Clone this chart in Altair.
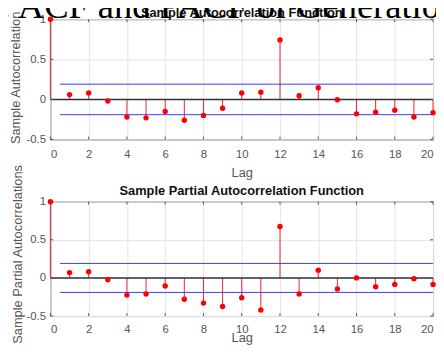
import altair as alt
import pandas as pd

# ---- data ----
lags = list(range(21))
acf_values = [1.0, 0.06, 0.08, -0.02, -0.22, -0.23, -0.15, -0.26, -0.20, -0.11,
              0.08, 0.09, 0.74, 0.045, 0.145, -0.005, -0.18, -0.16, -0.135, -0.22, -0.165]
pacf_values = [1.0, 0.07, 0.08, -0.025, -0.225, -0.21, -0.105, -0.28, -0.33, -0.375,
               -0.26, -0.42, 0.675, -0.21, 0.10, -0.145, 0.0, -0.115, -0.085, -0.01, -0.085]
acf_bound = 0.19
pacf_bound = 0.19
x_ticks = [0, 2, 4, 6, 8, 10, 12, 14, 16, 18, 20]
y_ticks = [-0.5, 0, 0.5, 1]
main_title = "4. ACF and PACF of Generation"
acf_title = "Sample Autocorrelation Function"
pacf_title = "Sample Partial Autocorrelation Function"
acf_ylabel = "Sample Autocorrelation"
pacf_ylabel = "Sample Partial Autocorrelations"
x_label = "Lag"

W = 388
SANS = "Liberation Sans"
xs = alt.Scale(domain=[0, 20], nice=False, zero=False)
ys = alt.Scale(domain=[-0.5, 1], nice=False, zero=False)


def panel(values, bound, title, ytitle, H, ytitle_x, ytitle_y, title_y,
          xlabel_pad, xtitle_y, with_main=False):
    def xa():
        return alt.Axis(values=x_ticks, title=x_label, titleY=xtitle_y,
                        titleBaseline="middle", labelPadding=xlabel_pad)

    def ya():
        return alt.Axis(values=y_ticks, title=ytitle, labelExpr="'' + datum.value",
                        titleX=ytitle_x, titleY=ytitle_y, titleBaseline="middle")

    X = lambda f: alt.X(f, scale=xs, axis=xa())
    Y = lambda f: alt.Y(f, scale=ys, axis=ya())

    df = pd.DataFrame({"lag": lags, "value": values, "base": [0] * len(lags)})
    base = alt.Chart(df)
    stems = base.mark_rule(color="#e8262b", strokeWidth=1).encode(
        x=X("lag:Q"), y=Y("value:Q"), y2="base:Q")
    dots = base.mark_circle(size=30, color="#ff0000", opacity=1).encode(
        x=X("lag:Q"), y=Y("value:Q"))
    bdf = pd.DataFrame({"lag": [0.5, 0.5], "x2": [20, 20], "value": [bound, -bound]})
    bounds = alt.Chart(bdf).mark_rule(color="#3a3aff", strokeWidth=1).encode(
        x=X("lag:Q"), x2="x2:Q", y=Y("value:Q"))
    zero = alt.Chart(pd.DataFrame({"value": [0]})).mark_rule(
        color="#333333", strokeWidth=1.5).encode(y=Y("value:Q"))
    xt = alt.Chart(pd.DataFrame({"lag": x_ticks}))
    yt = alt.Chart(pd.DataFrame({"value": y_ticks}))
    ts = dict(color="#555555", strokeWidth=1)
    ticks = [
        xt.mark_rule(**ts).encode(x=X("lag:Q"), y=alt.value(0), y2=alt.value(3)),
        xt.mark_rule(**ts).encode(x=X("lag:Q"), y=alt.value(H - 3), y2=alt.value(H)),
        yt.mark_rule(**ts).encode(y=Y("value:Q"), x=alt.value(0), x2=alt.value(3)),
        yt.mark_rule(**ts).encode(y=Y("value:Q"), x=alt.value(W - 3), x2=alt.value(W)),
    ]
    ptitle = alt.Chart(pd.DataFrame({"t": [title]})).mark_text(
        font=SANS, fontSize=13, fontWeight="bold", color="#111111", align="center",
        baseline="alphabetic").encode(text="t:N", x=alt.value(W / 2), y=alt.value(title_y))
    layers = [stems, bounds, zero] + ticks + [dots, ptitle]
    if with_main:
        big = alt.Chart(pd.DataFrame({"t": [main_title]})).mark_text(
            font="Liberation Serif", fontSize=37, align="left", baseline="alphabetic",
            color="#000000").encode(text="t:N", x=alt.value(-68), y=alt.value(-1.5))
        layers.append(big)
    return alt.layer(*layers).properties(width=W, height=H)


top = panel(acf_values, acf_bound, acf_title, acf_ylabel, 122, -35, 59, -2,
            9, 33.5, with_main=True)
bottom = panel(pacf_values, pacf_bound, pacf_title, pacf_ylabel, 116, -33, 53, -6.5,
               7.5, 22)

chart = alt.vconcat(top, bottom, spacing=63, bounds="flush").properties(
    padding={"left": -26, "top": -23, "right": -26, "bottom": -2}
).configure_view(stroke="#555555", strokeWidth=1).configure_axis(
    grid=True, gridColor="#e4e4e4", ticks=False, tickSize=0, domain=False,
    labelFont=SANS, labelFontSize=11.5, labelColor="#555555",
    titleFont=SANS, titleFontSize=13, titleFontWeight="normal", titleColor="#555555",
).configure_axisY(labelPadding=5)

chart.save("out.html", embed_options={"renderer": "svg", "actions": False})
